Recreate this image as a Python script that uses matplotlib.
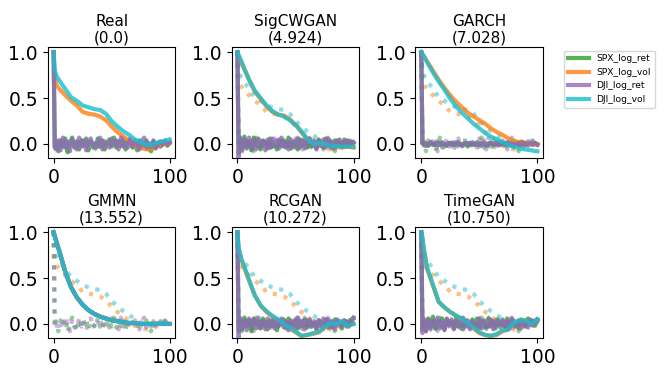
import matplotlib
matplotlib.use("Agg")
import matplotlib.pyplot as plt

# lags
vol_lags = [0, 1, 2, 3, 5, 10, 15, 20, 25, 30, 35, 40, 45, 50,
            55, 60, 65, 70, 75, 80, 85, 90, 95, 100]
ret_lags = [0, 1] + list(range(2, 101, 2))

series_names = ["SPX_log_ret", "SPX_log_vol", "DJI_log_ret", "DJI_log_vol"]
colors = ["#2ca02c", "#ff7f0e", "#9467bd", "#17becf"]

titles = ["Real\n(0.0)", "SigCWGAN\n(4.924)", "GARCH\n(7.028)",
          "GMMN\n(13.552)", "RCGAN\n(10.272)", "TimeGAN\n(10.750)"]

# real data acf
real_spx_ret = [1.00, -0.04,
                0.03, -0.08, 0.04, -0.03, 0.06, -0.09, 0.01, 0.07, -0.04, 0.03,
                -0.06, 0.04, -0.02, 0.06, -0.07, 0.03, 0.00, -0.05, 0.06, -0.03,
                0.04, -0.06, 0.01, 0.05, -0.03, 0.07, -0.04, 0.03, -0.02, 0.06,
                -0.06, 0.03, 0.04, -0.04, 0.01, -0.07, 0.04, 0.00, -0.03, 0.04,
                -0.05, -0.08, 0.03, -0.04, 0.01, -0.03, 0.00, 0.03, -0.02, 0.01]
real_dji_ret = [1.00, -0.03,
                -0.06, 0.04, -0.07, 0.07, -0.04, 0.03, -0.08, 0.05, 0.00, -0.06,
                0.07, -0.03, 0.04, -0.07, 0.03, 0.06, -0.04, 0.01, -0.03, 0.07,
                -0.06, 0.03, 0.00, -0.04, 0.06, -0.01, 0.04, -0.06, 0.07, -0.03,
                0.01, -0.04, 0.06, -0.03, 0.04, 0.00, -0.06, 0.03, 0.07, -0.04,
                0.01, -0.03, 0.04, -0.05, 0.00, 0.03, -0.01, 0.04, 0.00, 0.02]
real_spx_vol = [1.00, 0.72, 0.66, 0.63, 0.60, 0.53, 0.47, 0.42, 0.35, 0.33, 0.32, 0.30,
                0.26, 0.19, 0.13, 0.08, 0.04, -0.02, -0.04, -0.06, -0.05, -0.02, 0.00, 0.01]
real_dji_vol = [1.00, 0.80, 0.76, 0.73, 0.69, 0.60, 0.51, 0.47, 0.42, 0.40, 0.38, 0.37,
                0.33, 0.25, 0.19, 0.14, 0.10, 0.05, 0.02, -0.01, -0.01, 0.02, 0.03, 0.05]

# SigCWGAN
sig_spx_ret = [1.00, -0.10,
               0.06, -0.05, 0.08, -0.04, 0.03, -0.07, 0.07, -0.02, 0.05, -0.06,
               0.04, 0.02, -0.05, 0.06, -0.03, 0.01, -0.06, 0.05, -0.02, 0.04,
               -0.04, 0.07, -0.05, 0.02, 0.03, -0.06, 0.05, -0.01, 0.04, -0.04,
               0.06, -0.03, 0.02, -0.05, 0.05, 0.00, -0.04, 0.06, -0.02, 0.03,
               -0.05, 0.04, -0.01, 0.05, -0.03, 0.02, 0.04, -0.02, 0.03, 0.01]
sig_dji_ret = [1.00, -0.15,
               0.08, -0.07, 0.05, -0.05, 0.07, -0.03, 0.04, -0.06, 0.06, -0.02,
               0.03, -0.07, 0.05, -0.04, 0.06, -0.02, 0.04, -0.05, 0.07, -0.03,
               0.02, -0.06, 0.05, 0.01, -0.04, 0.06, -0.03, 0.04, -0.05, 0.03,
               0.06, -0.02, 0.04, -0.06, 0.03, -0.02, 0.05, -0.04, 0.06, -0.03,
               0.02, -0.05, 0.04, 0.01, -0.03, 0.05, -0.02, 0.03, 0.00, 0.02]
sig_spx_vol = [1.00, 0.96, 0.93, 0.90, 0.84, 0.70, 0.57, 0.49, 0.41, 0.35, 0.32, 0.31,
               0.27, 0.21, 0.13, 0.05, 0.01, 0.00, -0.01, -0.02, -0.03, -0.04, -0.03, -0.04]
sig_dji_vol = [1.00, 0.97, 0.94, 0.91, 0.85, 0.70, 0.58, 0.50, 0.42, 0.36, 0.32, 0.30,
               0.26, 0.21, 0.14, 0.06, 0.00, 0.01, 0.00, -0.02, -0.02, -0.03, -0.03, -0.03]

# GARCH
garch_spx_ret = [1.00, 0.02,
                 -0.01, 0.01, -0.02, 0.01, 0.00, -0.01, 0.02, -0.01, 0.01, 0.00,
                 -0.02, 0.01, 0.01, -0.01, 0.00, 0.02, -0.01, 0.00, 0.01, -0.02,
                 0.01, 0.00, -0.01, 0.02, -0.01, 0.01, 0.00, -0.02, 0.01, 0.01,
                 -0.01, 0.00, 0.02, -0.01, 0.00, 0.01, -0.01, 0.01, -0.02, 0.00,
                 0.01, -0.01, 0.02, 0.00, -0.01, 0.01, 0.00, -0.01, 0.01, 0.00]
garch_dji_ret = [1.00, 0.01,
                 0.01, -0.02, 0.00, 0.02, -0.01, 0.01, -0.02, 0.00, 0.02, -0.01,
                 0.00, 0.01, -0.02, 0.01, 0.02, -0.01, 0.00, -0.02, 0.01, 0.01,
                 -0.01, 0.02, 0.00, -0.01, 0.01, -0.02, 0.02, 0.00, -0.01, 0.01,
                 0.00, 0.02, -0.02, 0.01, 0.00, -0.01, 0.02, 0.00, 0.01, -0.02,
                 0.00, 0.01, -0.01, 0.02, 0.00, -0.02, 0.01, 0.00, 0.01, -0.01]
garch_spx_vol = [1.00, 0.98, 0.96, 0.94, 0.90, 0.80, 0.70, 0.61, 0.53, 0.46, 0.40, 0.34,
                 0.30, 0.26, 0.22, 0.17, 0.13, 0.10, 0.06, 0.03, 0.02, 0.01, 0.00, -0.01]
garch_dji_vol = [1.00, 0.98, 0.96, 0.94, 0.89, 0.78, 0.68, 0.59, 0.49, 0.41, 0.34, 0.28,
                 0.22, 0.17, 0.12, 0.08, 0.05, 0.02, -0.01, -0.03, -0.05, -0.06, -0.07, -0.08]

# GMMN (all four series collapse onto one curve)
gmmn_all = [1.00, 0.96, 0.91, 0.87, 0.79, 0.57, 0.40, 0.29, 0.21, 0.15, 0.11, 0.08,
            0.06, 0.04, 0.03, 0.02, 0.01, 0.01, 0.00, 0.00, 0.00, 0.00, 0.00, 0.00]

# RCGAN
rc_spx_ret = [1.00, -0.08,
              0.05, -0.06, 0.07, -0.03, 0.04, -0.08, 0.06, -0.01, 0.03, -0.05,
              0.06, 0.01, -0.06, 0.04, -0.02, 0.05, -0.07, 0.03, 0.00, 0.05,
              -0.05, 0.06, -0.03, 0.02, 0.04, -0.05, 0.03, -0.02, 0.05, -0.04,
              0.04, -0.02, 0.01, -0.06, 0.04, 0.02, -0.03, 0.05, -0.04, 0.02,
              -0.04, 0.05, 0.00, 0.03, -0.05, 0.04, 0.02, -0.03, 0.05, 0.06]
rc_dji_ret = [1.00, -0.15,
              0.07, -0.05, 0.04, -0.07, 0.06, -0.02, 0.05, -0.05, 0.07, -0.04,
              0.02, -0.06, 0.06, -0.03, 0.04, -0.05, 0.05, -0.02, 0.06, -0.04,
              0.03, -0.07, 0.04, 0.02, -0.05, 0.07, -0.02, 0.03, -0.06, 0.04,
              0.05, -0.03, 0.03, -0.05, 0.04, -0.03, 0.06, -0.02, 0.05, -0.04,
              0.03, -0.06, 0.05, 0.00, -0.02, 0.04, -0.03, 0.02, 0.01, 0.07]
rc_spx_vol = [1.00, 0.82, 0.77, 0.71, 0.64, 0.47, 0.31, 0.20, 0.13, 0.08, 0.04, -0.01,
              -0.05, -0.09, -0.13, -0.12, -0.11, -0.09, -0.04, 0.00, 0.00, 0.02, -0.02, 0.00]
rc_dji_vol = [1.00, 0.83, 0.78, 0.72, 0.66, 0.48, 0.31, 0.20, 0.14, 0.09, 0.05, 0.00,
              -0.04, -0.08, -0.13, -0.12, -0.10, -0.09, -0.03, 0.01, 0.00, 0.03, -0.02, 0.00]

# TimeGAN
tg_spx_ret = [1.00, -0.06,
              0.04, -0.07, 0.06, -0.04, 0.08, -0.05, 0.03, -0.02, 0.06, -0.06,
              0.05, -0.01, 0.03, -0.05, 0.07, -0.03, 0.02, -0.06, 0.04, 0.01,
              -0.04, 0.05, -0.02, 0.06, -0.05, 0.03, 0.01, -0.04, 0.06, -0.02,
              0.03, -0.05, 0.05, -0.01, 0.02, -0.04, 0.06, -0.03, 0.04, -0.02,
              0.01, -0.05, 0.05, 0.02, -0.03, 0.06, -0.01, 0.03, -0.02, 0.05]
tg_dji_ret = [1.00, -0.10,
              0.06, -0.08, 0.05, -0.06, 0.04, -0.03, 0.07, -0.05, 0.03, -0.07,
              0.06, -0.02, 0.05, -0.06, 0.03, 0.02, -0.05, 0.07, -0.03, 0.04,
              -0.06, 0.03, 0.01, -0.04, 0.06, -0.05, 0.04, 0.00, -0.03, 0.05,
              -0.06, 0.04, 0.02, -0.04, 0.05, -0.02, 0.03, -0.05, 0.06, 0.00,
              -0.03, 0.04, -0.05, 0.03, 0.01, -0.04, 0.05, -0.02, 0.04, 0.03]
tg_spx_vol = [1.00, 0.93, 0.83, 0.75, 0.60, 0.42, 0.24, 0.18, 0.13, 0.09, 0.05, 0.00,
              -0.05, -0.10, -0.12, -0.13, -0.12, -0.08, -0.06, 0.01, 0.03, 0.04, 0.00, 0.04]
tg_dji_vol = [1.00, 0.94, 0.84, 0.76, 0.61, 0.43, 0.24, 0.18, 0.13, 0.09, 0.06, 0.01,
              -0.04, -0.09, -0.12, -0.13, -0.11, -0.07, -0.06, 0.02, 0.04, 0.04, 0.00, 0.05]

real = [(ret_lags, real_spx_ret), (vol_lags, real_spx_vol),
        (ret_lags, real_dji_ret), (vol_lags, real_dji_vol)]
generated = [
    real,
    [(ret_lags, sig_spx_ret), (vol_lags, sig_spx_vol), (ret_lags, sig_dji_ret), (vol_lags, sig_dji_vol)],
    [(ret_lags, garch_spx_ret), (vol_lags, garch_spx_vol), (ret_lags, garch_dji_ret), (vol_lags, garch_dji_vol)],
    [(vol_lags, gmmn_all), (vol_lags, gmmn_all), (vol_lags, gmmn_all), (vol_lags, gmmn_all)],
    [(ret_lags, rc_spx_ret), (vol_lags, rc_spx_vol), (ret_lags, rc_dji_ret), (vol_lags, rc_dji_vol)],
    [(ret_lags, tg_spx_ret), (vol_lags, tg_spx_vol), (ret_lags, tg_dji_ret), (vol_lags, tg_dji_vol)],
]

fig, axes = plt.subplots(2, 3, figsize=(6.64, 3.77), dpi=100)
plt.subplots_adjust(left=0.072, right=0.818, top=0.875, bottom=0.103,
                    wspace=0.44, hspace=0.62)

for i, ax in enumerate(axes.flat):
    if i > 0:
        for (x, y), c in zip(real, colors):
            ax.plot(x, y, color=c, lw=3, ls=":", alpha=0.5)
    for (x, y), c, name in zip(generated[i], colors, series_names):
        ax.plot(x, y, color=c, lw=3, alpha=0.8, label=name)
    ax.set_title(titles[i], fontsize=11, pad=3)
    ax.set_xticks([0, 100])
    ax.set_yticks([0.0, 0.5, 1.0])
    ax.set_ylim(-0.155, 1.055)
    ax.tick_params(labelsize=13.5)

handles, labels = axes.flat[0].get_legend_handles_labels()
fig.legend(handles, labels, loc="upper left", bbox_to_anchor=(0.843, 0.878),
           fontsize=6.6, handlelength=2.3, frameon=True)

fig.savefig("out.png", dpi=100)
